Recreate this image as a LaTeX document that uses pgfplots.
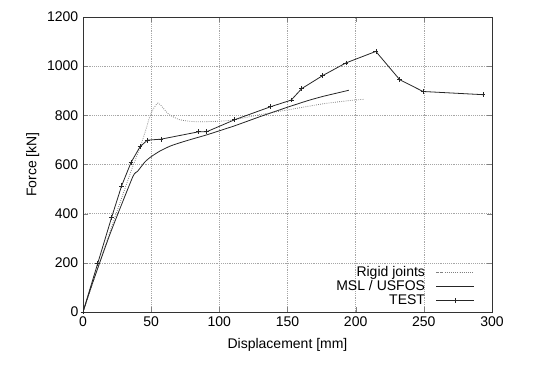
\documentclass[border=0pt]{standalone}
\usepackage{fontspec}
\setmainfont{Liberation Sans}
\usepackage{pgfplots}
\pgfplotsset{compat=1.18}
\begin{document}
\begin{tikzpicture}[x=1pt,y=1pt]
\begin{axis}[
  scale only axis,
  width=306.75pt, height=221.25pt,
  xmin=0, xmax=300, ymin=0, ymax=1200,
  xtick={0,50,...,300}, ytick={0,200,...,1200},
  grid=major,
  major grid style={densely dotted, gray!70, line width=0.4pt},
  tick align=inside,
  major tick length=4pt,
  axis line style={line width=0.6pt, black!80},
  /pgf/number format/assume math mode=true,
  /pgf/number format/1000 sep={},
  ticklabel style={font=\fontsize{10.5}{12}\selectfont},
  label style={font=\fontsize{10.5}{12}\selectfont},
  xlabel={Displacement [mm]},
  ylabel={Force [kN]},
  xlabel style={yshift=-2pt},
  ylabel style={yshift=-1pt},
  legend style={draw=none, fill=none, at={(rel axis cs:1,0)}, anchor=south east,
    xshift=-12pt, yshift=1pt, font=\fontsize{10.5}{12}\selectfont,
    row sep=-2.5pt, inner sep=1pt,
    /tikz/every odd column/.style={column sep=6pt}},
  legend cell align=right,
  legend plot pos=right,
  legend image code/.code={\draw[mark repeat=2,mark phase=2,#1] plot coordinates {(0cm,0cm) (0.5cm,0cm) (1cm,0cm)};},
]
% Rigid joints
\addplot[densely dotted, gray, line width=0.6pt, smooth, tension=0.4] coordinates {
(0,0) (10,165) (20,330) (30,490) (36,585) (42,672) (46,740) (49,795) (52,830) (55,850) (58,835) (61,815) (64,800) (71,782) (80,775) (88,774) (100,776) (110,781) (130,803) (150,822) (175,846) (195,860) (206,865)
};
\addlegendentry{Rigid joints}
% MSL / USFOS
\addplot[black!85, line width=0.6pt, smooth, tension=0.3] coordinates {
(0,0) (6.5,110) (20,320) (36.5,550) (40,572) (45.5,611) (50,632) (56.5,655) (64,675) (72,690) (81,705) (91,721) (111,757) (130,795) (150,833) (165,860) (176,877) (195,902)
};
\addlegendentry{MSL / USFOS}
% TEST
\addplot[black!85, line width=0.6pt, mark=+, mark size=1.8pt, mark options={solid, line width=0.5pt}] coordinates {
(0,0) (10.8,198) (21,385) (28.3,513) (35.2,608) (41.8,672) (47.2,699) (57.2,703) (84.8,733) (90.6,733) (111.2,782) (137.6,835) (152.7,862) (160.5,909) (175.9,962) (192.8,1013) (214.8,1060) (232.3,945) (249.4,897) (293.4,884)
};
\addlegendentry{TEST}
\end{axis}
\path[use as bounding box] ([xshift=-62.25pt,yshift=-43.5pt]current axis.south west) rectangle ([xshift=41.25pt,yshift=12.75pt]current axis.north east);
\end{tikzpicture}
\end{document}
